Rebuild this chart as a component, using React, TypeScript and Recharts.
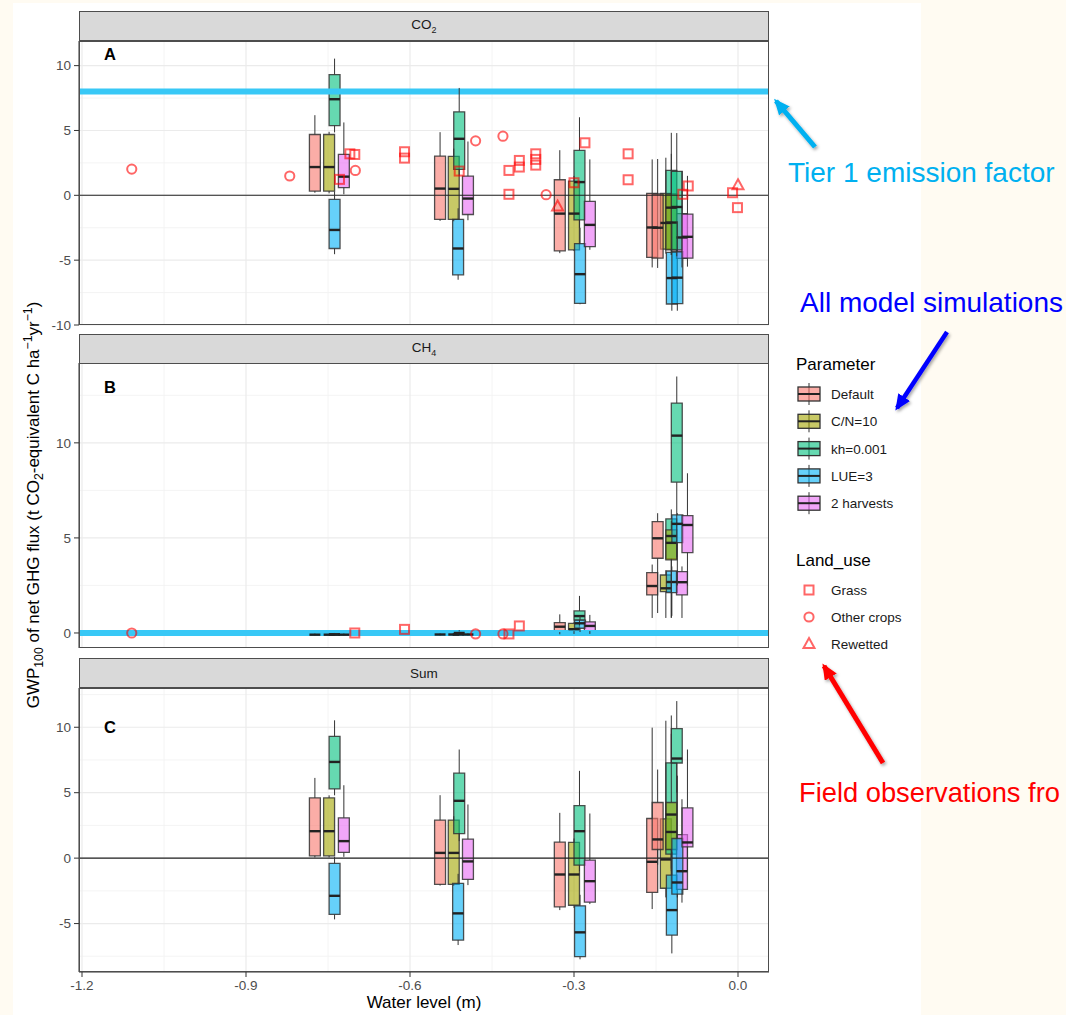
import React from 'react';
import {
    ComposedChart,
    XAxis,
    YAxis,
    CartesianGrid,
    ReferenceLine,
    ReferenceArea,
    Scatter,
} from 'recharts';

const FONT = '"Liberation Sans", Arial, Helvetica, sans-serif';

const PARAMS = ['Default', 'C/N=10', 'kh=0.001', 'LUE=3', '2 harvests'];
const PARAM_COLORS = ['#F8766D', '#A3A500', '#00BF7D', '#00B0F6', '#E76BF3'];
const LAND_USE = ['Grass', 'Other crops', 'Rewetted'];
const POINT_COLOR = '#FF0000';
const TIER_COLOR = '#38C8F6';

const X_DOMAIN: [number, number] = [-1.2055, 0.0567];
const X_TICKS = [-1.2, -0.9, -0.6, -0.3, 0];
const X_MINOR = [-1.05, -0.75, -0.45, -0.15];
const BOX_W = 0.02;

// water level (m) of every box, per parameter
const xDefault = [-0.774, -0.545, -0.326, -0.157, -0.147];
const xCN = [-0.748, -0.52, -0.3, -0.132, -0.122];
const xKh = [-0.738, -0.51, -0.29, -0.122, -0.112];
const xLue = [-0.738, -0.512, -0.289, -0.121, -0.111];
const xHarv = [-0.721, -0.494, -0.271, -0.1025, -0.0925];
const PARAM_X = [xDefault, xCN, xKh, xLue, xHarv];

// box stats: [min, q1, median, q3, max]
const co2Default = [[0.2, 0.33, 2.18, 4.69, 6.18], [-1.97, -1.85, 0.52, 3.02, 4.87], [-4.46, -4.28, -1.41, 1.2, 3.48], [-5.56, -4.79, -2.48, 0.15, 2.77], [-5.6, -4.85, -2.5, 0.1, 2.8]];
const co2CN = [[0.15, 0.33, 2.18, 4.69, 4.9], [-2.0, -1.85, 0.5, 3.0, 3.6], [-4.3, -4.2, -1.41, 1.1, 1.5], [-4.5, -4.15, -2.13, 0.15, 2.9], [-4.6, -4.2, -2.1, 0.1, 3.2]];
const co2Kh = [[4.85, 5.38, 7.41, 9.31, 10.54], [1.48, 2.0, 4.36, 6.44, 8.28], [-2.5, -1.9, 1.02, 3.46, 6.02], [-4.6, -4.15, -0.95, 1.92, 4.82], [-4.7, -4.2, -0.9, 1.85, 4.8]];
const co2Lue = [[-4.54, -4.1, -2.67, -0.31, 0.3], [-6.51, -6.13, -4.1, -1.85, -1.0], [-8.4, -8.33, -6.08, -3.72, -2.5], [-8.9, -8.38, -6.38, -4.4, -2.0], [-8.9, -8.35, -6.35, -4.35, -2.0]];
const co2Harv = [[0.08, 0.59, 1.44, 3.15, 5.62], [-1.92, -1.48, -0.25, 1.48, 4.15], [-4.2, -3.95, -2.28, -0.46, 2.77], [-5.56, -4.87, -3.25, -1.41, 1.87], [-5.5, -4.85, -3.2, -1.45, 1.5]];

const ch4Default = [[-0.14, -0.12, -0.09, -0.06, -0.03], [-0.13, -0.11, -0.08, -0.05, -0.02], [-0.07, 0.05, 0.33, 0.54, 0.98], [0.79, 2.0, 2.47, 3.17, 3.6], [1.05, 3.93, 4.98, 5.86, 6.3]];
const ch4CN = [[-0.14, -0.12, -0.09, -0.06, -0.03], [-0.13, -0.11, -0.08, -0.05, -0.02], [-0.05, 0.1, 0.2, 0.5, 0.6], [0.79, 2.17, 2.35, 3.05, 3.3], [0.8, 3.84, 4.74, 5.42, 5.9]];
const ch4Kh = [[-0.12, -0.1, -0.07, -0.04, 0.0], [-0.1, -0.06, 0.0, 0.08, 0.15], [0.4, 0.68, 0.89, 1.16, 1.95], [0.8, 3.9, 5.1, 6.0, 6.5], [4.0, 7.93, 10.38, 12.09, 13.49]];
const ch4Lue = [[-0.14, -0.12, -0.09, -0.06, -0.03], [-0.13, -0.11, -0.08, -0.05, -0.02], [0.05, 0.25, 0.51, 0.68, 0.9], [0.9, 2.12, 2.68, 3.26, 3.5], [2.5, 4.75, 5.74, 6.21, 6.3]];
const ch4Harv = [[-0.14, -0.12, -0.09, -0.06, -0.03], [-0.13, -0.11, -0.08, -0.05, -0.02], [-0.05, 0.1, 0.37, 0.58, 0.95], [0.79, 2.0, 2.67, 3.23, 3.5], [2.5, 4.23, 5.68, 6.17, 8.4]];

const sumDefault = [[0.05, 0.18, 2.06, 4.6, 6.13], [-2.1, -2.0, 0.4, 2.9, 4.81], [-3.97, -3.72, -1.25, 1.22, 3.46], [-3.89, -2.62, -0.28, 3.03, 9.97], [-0.5, 0.66, 1.43, 4.25, 6.77]];
const sumCN = [[0.05, 0.18, 2.06, 4.6, 4.8], [-2.1, -2.0, 0.4, 2.9, 3.2], [-3.8, -3.6, -1.25, 1.2, 1.5], [-3.0, -2.3, -0.1, 3.0, 10.5], [-0.8, 0.66, 3.33, 4.25, 9.5]];
const sumKh = [[4.8, 5.29, 7.35, 9.31, 10.53], [1.3, 1.88, 4.38, 6.49, 8.3], [-1.0, -0.53, 2.06, 4.02, 6.67], [-1.0, 0.3, 2.0, 7.28, 10.9], [5.0, 7.27, 7.61, 9.9, 12.0]];
const sumLue = [[-4.68, -4.3, -2.88, -0.4, 0.1], [-6.64, -6.26, -4.22, -1.93, -1.2], [-7.73, -7.53, -5.67, -3.64, -2.8], [-7.28, -5.88, -3.97, -1.3, 0.5], [-3.0, -2.75, -1.86, 1.5, 6.3]];
const sumHarv = [[0.1, 0.44, 1.3, 3.08, 5.57], [-2.06, -1.63, -0.25, 1.45, 4.1], [-3.51, -3.36, -1.76, -0.15, 3.41], [-3.4, -2.39, -1.0, 1.8, 4.5], [-1.0, 0.86, 1.2, 3.84, 8.3]];

// field observations
const grassCo2X = [-0.729, -0.71, -0.701, -0.61, -0.61, -0.51, -0.419, -0.4, -0.4, -0.419, -0.37, -0.37, -0.37, -0.28, -0.3, -0.201, -0.201, -0.091, -0.101, -0.01, -0.001];
const grassCo2Y = [1.23, 3.2, 3.15, 3.36, 2.87, 1.87, 1.92, 2.69, 2.18, 0.08, 3.2, 2.77, 2.33, 4.05, 0.97, 3.2, 1.2, 0.72, 0.08, 0.2, -0.95];
const cropsCo2X = [-1.109, -0.82, -0.7, -0.48, -0.43, -0.351];
const cropsCo2Y = [2.02, 1.49, 1.92, 4.2, 4.56, 0.05];
const rewetCo2X = [-0.33, 0.0];
const rewetCo2Y = [-0.87, 0.77];
const grassCh4X = [-0.701, -0.61, -0.419, -0.4];
const grassCh4Y = [0.0, 0.19, -0.05, 0.37];
const cropsCh4X = [-1.109, -0.48, -0.43];
const cropsCh4Y = [0.0, -0.05, -0.05];

const TIER1_CO2 = 8;
const TIER1_CH4 = 0;

type Stats = number[][];

const toPoints = (xs: number[], ys: number[]) => xs.map((x, i) => ({ x, y: ys[i] }));

const SquareShape = (props: any) => (
    <rect x={props.cx - 4.5} y={props.cy - 4.5} width={9} height={9} fill="none"
        stroke={POINT_COLOR} strokeOpacity={0.6} strokeWidth={2} />
);
const CircleShape = (props: any) => (
    <circle cx={props.cx} cy={props.cy} r={4.6} fill="none"
        stroke={POINT_COLOR} strokeOpacity={0.6} strokeWidth={2} />
);
const TriangleShape = (props: any) => (
    <polygon points={`${props.cx},${props.cy - 6} ${props.cx + 5.5},${props.cy + 4} ${props.cx - 5.5},${props.cy + 4}`}
        fill="none" stroke={POINT_COLOR} strokeOpacity={0.6} strokeWidth={2} strokeLinejoin="miter" />
);

const boxElements = (statsByParam: Stats[], panel: string) => {
    const out: React.ReactElement[] = [];
    for (let i = 0; i < 5; i++) {
        statsByParam.forEach((stats, p) => {
            const [mn, q1, md, q3, mx] = stats[i];
            const x = PARAM_X[p][i];
            const k = `${panel}-${p}-${i}`;
            out.push(
                <ReferenceLine key={`${k}-lo`} segment={[{ x, y: mn }, { x, y: q1 }]} stroke="#333" strokeWidth={1} ifOverflow="visible" />,
                <ReferenceLine key={`${k}-hi`} segment={[{ x, y: q3 }, { x, y: mx }]} stroke="#333" strokeWidth={1} ifOverflow="visible" />,
                <ReferenceArea key={`${k}-box`} x1={x - BOX_W / 2} x2={x + BOX_W / 2} y1={q1} y2={q3}
                    fill={PARAM_COLORS[p]} fillOpacity={0.6} stroke="#333" strokeOpacity={0.85} strokeWidth={1.3} ifOverflow="visible" />,
                <ReferenceLine key={`${k}-med`} segment={[{ x: x - BOX_W / 2, y: md }, { x: x + BOX_W / 2, y: md }]}
                    stroke="#222" strokeWidth={2.4} ifOverflow="visible" />,
            );
        });
    }
    return out;
};

const PLOT_R = 769;
const AXIS_W = 79;

interface PanelProps {
    top: number;
    height: number;
    yDomain: [number, number];
    yTicks: number[];
    yMinor: number[];
    stats: Stats[];
    name: string;
    showX?: boolean;
    zeroLine?: boolean;
    tier?: number;
    points?: React.ReactElement[];
}

const tickStyle = { fill: '#4D4D4D', fontSize: 13.5, fontFamily: FONT };

const Panel = ({ top, height, yDomain, yTicks, yMinor, stats, name, showX, zeroLine, tier, points }: PanelProps) => (
    <div style={{ position: 'absolute', left: 0, top }}>
        <ComposedChart width={PLOT_R} height={height + (showX ? 34 : 10)}
            margin={{ top: 0, right: 0, bottom: showX ? 0 : 10, left: 0 }}>
            <CartesianGrid horizontalValues={yMinor} verticalValues={X_MINOR} stroke="#F3F3F3" strokeWidth={0.9} />
            <CartesianGrid horizontalValues={yTicks} verticalValues={X_TICKS} stroke="#EBEBEB" strokeWidth={1.2} />
            <XAxis type="number" dataKey="x" domain={X_DOMAIN} allowDataOverflow ticks={X_TICKS} interval={0}
                hide={!showX} height={showX ? 34 : 0} tickFormatter={(v: number) => v.toFixed(1)}
                tick={tickStyle} tickLine={{ stroke: '#333' }} axisLine={{ stroke: '#333' }} tickSize={5} tickMargin={3} />
            <YAxis type="number" domain={yDomain} allowDataOverflow ticks={yTicks} interval={0} width={AXIS_W}
                tick={tickStyle} tickLine={{ stroke: '#333' }} axisLine={{ stroke: '#333' }} tickSize={5} tickMargin={3} />
            {tier !== undefined && <ReferenceLine y={tier} stroke={TIER_COLOR} strokeWidth={6} />}
            {zeroLine && <ReferenceLine y={0} stroke="#222" strokeWidth={1.1} />}
            {boxElements(stats, name)}
            {points}
        </ComposedChart>
        <div style={{ position: 'absolute', left: AXIS_W, top: 0, width: PLOT_R - AXIS_W, height, border: '1px solid #4D4D4D', boxSizing: 'border-box', pointerEvents: 'none' }} />
    </div>
);

const Strip = ({ top, children }: { top: number; children: React.ReactNode }) => (
    <div style={{
        position: 'absolute', left: AXIS_W, top, width: PLOT_R - AXIS_W, height: 30, boxSizing: 'border-box',
        background: '#D9D9D9', border: '1px solid #4D4D4D', display: 'flex', alignItems: 'center', justifyContent: 'center',
        fontFamily: FONT, fontSize: 13.5, color: '#1A1A1A',
    }}>
        <span>{children}</span>
    </div>
);

const Tag = ({ top, label }: { top: number; label: string }) => (
    <div style={{ position: 'absolute', left: 104, top, fontFamily: FONT, fontWeight: 'bold', fontSize: 16.5, lineHeight: '18px', color: '#000' }}>{label}</div>
);

const sub = { fontSize: '0.72em', verticalAlign: 'sub', lineHeight: 0 } as const;
const sup = { fontSize: '0.72em', verticalAlign: 'super', lineHeight: 0 } as const;

const Arrow = ({ x1, y1, x2, y2, color, w, id }: any) => (
    <g filter="url(#shadow)">
        <defs>
            <marker id={id} markerUnits="userSpaceOnUse" markerWidth={16} markerHeight={14} refX={13} refY={7} orient="auto" viewBox="0 0 16 14">
                <path d="M0,0 L16,7 L0,14 z" fill={color} />
            </marker>
        </defs>
        <line x1={x1} y1={y1} x2={x2} y2={y2} stroke={color} strokeWidth={w} markerEnd={`url(#${id})`} />
    </g>
);

const App = () => {
    const co2Points = [
        <Scatter key="g" data={toPoints(grassCo2X, grassCo2Y)} dataKey="y" shape={SquareShape} isAnimationActive={false} />,
        <Scatter key="c" data={toPoints(cropsCo2X, cropsCo2Y)} dataKey="y" shape={CircleShape} isAnimationActive={false} />,
        <Scatter key="r" data={toPoints(rewetCo2X, rewetCo2Y)} dataKey="y" shape={TriangleShape} isAnimationActive={false} />,
    ];
    const ch4Points = [
        <Scatter key="g" data={toPoints(grassCh4X, grassCh4Y)} dataKey="y" shape={SquareShape} isAnimationActive={false} />,
        <Scatter key="c" data={toPoints(cropsCh4X, cropsCh4Y)} dataKey="y" shape={CircleShape} isAnimationActive={false} />,
    ];

    return (
        <div style={{ position: 'absolute', left: 0, top: 0, width: 1066, height: 1015, overflow: 'hidden', background: '#FFFBF2', fontFamily: FONT }}>
            <div style={{ position: 'absolute', left: 13, top: 3, width: 908, height: 1012, background: '#FFFFFF' }} />

            <Panel top={41} height={284} yDomain={[-10, 11.9]} yTicks={[-10, -5, 0, 5, 10]} yMinor={[-7.5, -2.5, 2.5, 7.5]}
                stats={[co2Default, co2CN, co2Kh, co2Lue, co2Harv]} name="co2" zeroLine tier={TIER1_CO2} points={co2Points} />
            <Strip top={11}>CO<sub style={{ fontSize: 9 }}>2</sub></Strip>
            <Tag top={45} label="A" />

            <Panel top={363} height={285} yDomain={[-0.79, 14.2]} yTicks={[0, 5, 10]} yMinor={[2.5, 7.5, 12.5]}
                stats={[ch4Default, ch4CN, ch4Kh, ch4Lue, ch4Harv]} name="ch4" tier={TIER1_CH4} points={ch4Points} />
            <Strip top={334}>CH<sub style={{ fontSize: 9 }}>4</sub></Strip>
            <Tag top={378} label="B" />

            <Panel top={688} height={284} yDomain={[-8.7, 13.0]} yTicks={[-5, 0, 5, 10]} yMinor={[-7.5, -2.5, 2.5, 7.5, 12.5]}
                stats={[sumDefault, sumCN, sumKh, sumLue, sumHarv]} name="sum" zeroLine showX />
            <Strip top={658}>Sum</Strip>
            <Tag top={718} label="C" />

            <div style={{ position: 'absolute', left: 424, top: 1003, transform: 'translate(-50%, -50%)', fontSize: 17, color: '#000', whiteSpace: 'nowrap' }}>
                Water level (m)
            </div>
            <div style={{ position: 'absolute', left: 34, top: 505, transform: 'translate(-50%, -50%) rotate(-90deg)', fontSize: 17, color: '#000', whiteSpace: 'nowrap' }}>
                GWP<span style={sub}>100</span> of net GHG flux (t CO<span style={sub}>2</span>-equivalent C ha<span style={sup}>−1</span>yr<span style={sup}>−1</span>)
            </div>

            <svg width={1066} height={1015} style={{ position: 'absolute', left: 0, top: 0, pointerEvents: 'none' }}>
                <defs>
                    <filter id="shadow" x="-20%" y="-20%" width="140%" height="140%">
                        <feDropShadow dx={1.5} dy={2} stdDeviation={1.5} floodOpacity={0.35} />
                    </filter>
                </defs>

                <text x={796} y={370} fontSize={17} fill="#000" fontFamily={FONT}>Parameter</text>
                {PARAMS.map((p, i) => {
                    const cy = 394 + i * 27.3;
                    return (
                        <g key={p}>
                            <line x1={809} x2={809} y1={cy - 11} y2={cy + 11} stroke="#333" strokeWidth={1} />
                            <rect x={798} y={cy - 7} width={22} height={14} fill={PARAM_COLORS[i]} fillOpacity={0.6} stroke="#333" strokeWidth={1.3} />
                            <line x1={798} x2={820} y1={cy} y2={cy} stroke="#222" strokeWidth={2} />
                            <text x={831} y={cy + 5} fontSize={13.5} fill="#1A1A1A" fontFamily={FONT}>{p}</text>
                        </g>
                    );
                })}

                <text x={796} y={566} fontSize={17} fill="#000" fontFamily={FONT}>Land_use</text>
                {LAND_USE.map((l, j) => {
                    const cy = 590 + j * 27;
                    const shape = j === 0 ? <SquareShape cx={809} cy={cy} /> : j === 1 ? <CircleShape cx={809} cy={cy} /> : <TriangleShape cx={809} cy={cy} />;
                    return (
                        <g key={l}>
                            {shape}
                            <text x={831} y={cy + 5} fontSize={13.5} fill="#1A1A1A" fontFamily={FONT}>{l}</text>
                        </g>
                    );
                })}

                <Arrow id="ah-cyan" x1={815} y1={147} x2={776} y2={101} color="#00B0F0" w={5} />
                <Arrow id="ah-blue" x1={947} y1={332} x2={897} y2={408} color="#0000FF" w={4.5} />
                <Arrow id="ah-red" x1={883} y1={763} x2={824} y2={666} color="#FF0000" w={5} />

                <text x={788} y={181.7} fontSize={28} fill="#00B0F0" fontFamily={FONT}>Tier 1 emission factor</text>
                <text x={800} y={311.7} fontSize={28} fill="#0000FF" fontFamily={FONT}>All model simulations</text>
                <text x={799} y={801.7} fontSize={27.3} fill="#FF0000" fontFamily={FONT}>Field observations fro</text>
            </svg>
        </div>
    );
};

export default App;
